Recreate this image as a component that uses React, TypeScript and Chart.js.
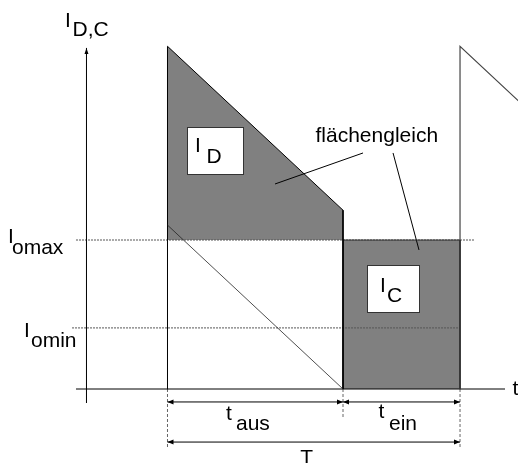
import React, { useEffect, useRef } from "react";
import { Chart, registerables } from "chart.js";

Chart.register(...registerables);

// ---- values (time t: 0 = switch-off, t_aus = 3, t_ein = 2; current: Iomax = 1) ----
const T_AUS = 3;
const PERIOD = 5;
const I_PEAK = 2.3;
const I_AUS_END = 1.2;
const I_OMAX = 1.0;
const I_OMIN = 0.41;
const I_TRI_START = 1.1;
const I_NEXT_END = 1.933;
const T_NEXT_END = 6;

const X_MIN = -2.863;
const X_MAX = 5.991;
const Y_MIN = -0.4966;
const Y_MAX = 2.6107;

const yAxisLine = [[-1.385, -0.094], [-1.385, 2.289]];
const xAxisLine = [[-1.564, 0], [5.769, 0]];
const omaxLine = [[-1.564, I_OMAX], [5.256, I_OMAX]];
const ominLine = [[-1.632, I_OMIN], [PERIOD, I_OMIN]];

const diodeRamp = [[0, I_PEAK], [T_AUS, I_AUS_END]];
const capBlock = [[T_AUS, I_OMAX], [PERIOD, I_OMAX]];
const diodeOutline = [[0, 0], [0, I_PEAK], [T_AUS, I_AUS_END], [T_AUS, 0]];
const capOutline = [[T_AUS, 0], [T_AUS, I_OMAX], [PERIOD, I_OMAX], [PERIOD, 0]];
const nextRamp = [[PERIOD, 0], [PERIOD, I_PEAK], [T_NEXT_END, I_NEXT_END]];
const triangleDiag = [[0, I_TRI_START], [T_AUS, 0]];

const extLines = [
  [[0, 0], [0, -0.4]],
  [[T_AUS, 0], [T_AUS, -0.2]],
  [[PERIOD, 0], [PERIOD, -0.4]],
];
const dimLines = [
  [[0, -0.087], [T_AUS, -0.087]],
  [[T_AUS, -0.087], [PERIOD, -0.087]],
  [[0, -0.356], [PERIOD, -0.356]],
];
const leaderLines = [
  [[1.838, 1.376], [3.342, 1.584]],
  [[3.855, 1.584], [4.299, 0.933]],
];

const boxes = [
  [0.333, 1.758, 1.291, 1.443],
  [3.41, 0.832, 4.299, 0.517],
];

const labelTexts = ["I", "D,C", "I", "omax", "I", "omin", "I", "D", "I", "C", "t", "aus", "t", "ein", "T", "t", "flächengleich"];
const labelX = [-1.752, -1.624, -2.726, -2.658, -2.453, -2.333, 0.47, 0.667, 3.632, 3.752, 1.0, 1.171, 3.607, 3.786, 2.27, 5.897, 2.53];
const labelY = [2.43, 2.369, 0.98, 0.906, 0.349, 0.282, 1.591, 1.517, 0.651, 0.584, -0.208, -0.275, -0.195, -0.275, -0.5, -0.04, 1.658];

const pts = (arr: number[][]) => arr.map(([x, y]) => ({ x, y }));

const FONT = '21px "Liberation Sans", Arial, sans-serif';

const overlayPlugin = {
  id: "overlay",
  afterDatasetsDraw(chart: any) {
    const ctx = chart.ctx;
    const xs = chart.scales.x;
    const ys = chart.scales.y;
    // arrowheads
    chart.data.datasets.forEach((ds: any, i: number) => {
      if (!ds.arrows) return;
      const meta = chart.getDatasetMeta(i);
      const p = meta.data;
      const drawHead = (tip: any, from: any, len: number, half: number) => {
        const ang = Math.atan2(tip.y - from.y, tip.x - from.x);
        ctx.save();
        ctx.translate(tip.x, tip.y);
        ctx.rotate(ang);
        ctx.beginPath();
        ctx.moveTo(0, 0);
        ctx.lineTo(-len, -half);
        ctx.lineTo(-len, half);
        ctx.closePath();
        ctx.fillStyle = "#000";
        ctx.fill();
        ctx.restore();
      };
      const len = ds.arrowLen || 6;
      const half = ds.arrowHalf || 2.5;
      if (ds.arrows === "both" || ds.arrows === "start") drawHead(p[0], p[p.length - 1], len, half);
      if (ds.arrows === "both" || ds.arrows === "end") drawHead(p[p.length - 1], p[0], len, half);
    });
    // boxes
    ctx.save();
    boxes.forEach(([x1, y1, x2, y2]) => {
      const l = Math.round(xs.getPixelForValue(x1)) + 0.5;
      const t = Math.round(ys.getPixelForValue(y1)) + 0.5;
      const r = Math.round(xs.getPixelForValue(x2)) + 0.5;
      const b = Math.round(ys.getPixelForValue(y2)) + 0.5;
      ctx.fillStyle = "#ffffff";
      ctx.fillRect(l, t, r - l, b - t);
      ctx.strokeStyle = "#333333";
      ctx.lineWidth = 1;
      ctx.strokeRect(l, t, r - l, b - t);
    });
    // labels
    ctx.font = FONT;
    ctx.fillStyle = "#000";
    ctx.textAlign = "left";
    ctx.textBaseline = "alphabetic";
    labelTexts.forEach((txt, i) => {
      ctx.fillText(txt, xs.getPixelForValue(labelX[i]), ys.getPixelForValue(labelY[i]));
    });
    ctx.restore();
  },
};

export default function App() {
  const ref = useRef<HTMLCanvasElement | null>(null);
  useEffect(() => {
    if (!ref.current) return;
    const line = (data: number[][], color: string, width: number, extra: any = {}) => ({
      data: pts(data),
      borderColor: color,
      borderWidth: width,
      backgroundColor: "transparent",
      fill: false,
      pointRadius: 0,
      order: 0,
      ...extra,
    });
    const datasets: any[] = [
      { data: pts(diodeRamp), borderWidth: 0, borderColor: "transparent", backgroundColor: "#808080", fill: { value: I_OMAX }, pointRadius: 0, order: 10 },
      { data: pts(capBlock), borderWidth: 0, borderColor: "transparent", backgroundColor: "#808080", fill: { value: 0 }, pointRadius: 0, order: 10 },
      line(omaxLine, "#555555", 1, { borderDash: [2, 1], order: 5 }),
      line(ominLine, "#555555", 1, { borderDash: [2, 1], order: 5 }),
      ...extLines.map((d) => line(d, "#666666", 1, { borderDash: [3, 2], order: 5 })),
      line(triangleDiag, "#222222", 0.8),
      line(diodeOutline, "#000000", 1),
      line(capOutline, "#333333", 1),
      line(nextRamp, "#444444", 1.2),
      line(xAxisLine, "#000000", 1),
      line(yAxisLine, "#000000", 1, { arrows: "end", arrowLen: 6, arrowHalf: 2 }),
      ...dimLines.map((d) => line(d, "#000000", 1, { arrows: "both", arrowLen: 6, arrowHalf: 2.5 })),
      ...leaderLines.map((d) => line(d, "#000000", 1)),
    ];
    const chart = new Chart(ref.current, {
      type: "scatter",
      data: { datasets },
      options: {
        animation: false,
        responsive: false,
        devicePixelRatio: 1,
        events: [],
        showLine: true,
        layout: { padding: 0 },
        elements: { point: { radius: 0 }, line: { tension: 0 } },
        plugins: { legend: { display: false }, tooltip: { enabled: false } },
        scales: {
          x: { type: "linear", min: X_MIN, max: X_MAX, display: false },
          y: { type: "linear", min: Y_MIN, max: Y_MAX, display: false },
        },
      } as any,
      plugins: [overlayPlugin],
    });
    return () => chart.destroy();
  }, []);
  return (
    <div style={{ position: "absolute", left: 0, top: 0, width: 518, height: 463, background: "#fff" }}>
      <canvas ref={ref} width={518} height={463} style={{ display: "block", width: 518, height: 463 }} />
    </div>
  );
}
